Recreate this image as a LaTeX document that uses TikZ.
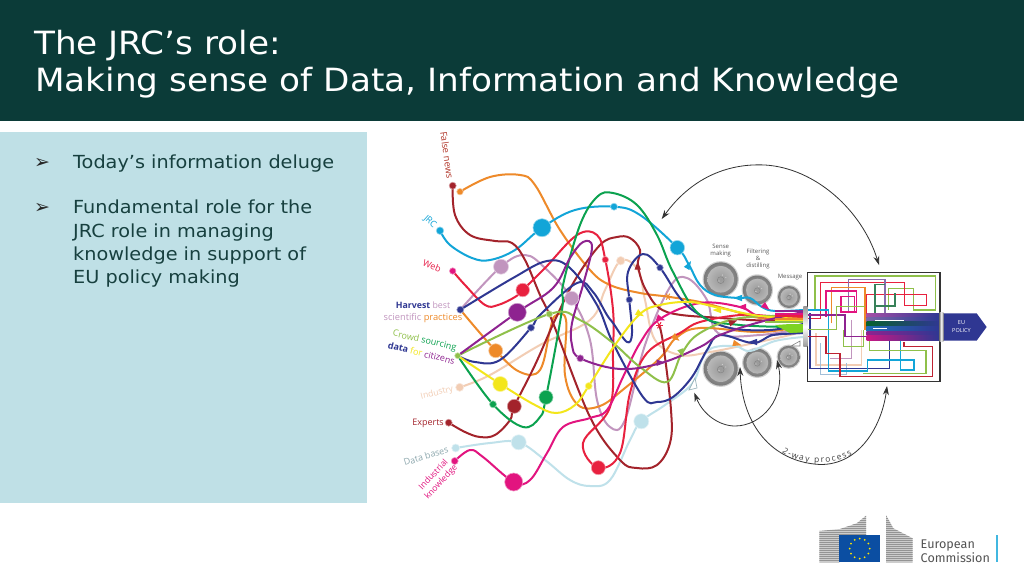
\documentclass[tikz,border=0pt]{standalone}
\usepackage{fontspec}
\setmainfont{DejaVu Sans}
\newfontfamily\wide[FakeStretch=1.07]{DejaVu Sans}
\newfontfamily\lbl{Open Sans}
\newfontfamily\logof{Fira Sans}
\usetikzlibrary{arrows.meta,decorations.text}
\definecolor{hdr}{HTML}{0B3B38}
\definecolor{panel}{HTML}{BFE0E6}
\definecolor{bodytxt}{HTML}{17403F}
\definecolor{cblue}{HTML}{12A5D8}
\definecolor{cdred}{HTML}{A3232B}
\definecolor{corange}{HTML}{EE8A2A}
\definecolor{cred}{HTML}{E8213F}
\definecolor{cmag}{HTML}{E2147F}
\definecolor{cmauve}{HTML}{C195BE}
\definecolor{cpurple}{HTML}{8E2390}
\definecolor{cnavy}{HTML}{2F3792}
\definecolor{cgreen}{HTML}{0BA24F}
\definecolor{colive}{HTML}{8FC04A}
\definecolor{cyellow}{HTML}{F3E61B}
\definecolor{cpeach}{HTML}{F2CDB4}
\definecolor{clblue}{HTML}{BFE1EA}
\definecolor{cbright}{HTML}{7ED321}
\definecolor{eublue}{HTML}{0B4EA2}
\tikzset{
  wire/.style={line width=2pt,line cap=round,line join=round},
  boxwire/.style={line width=1.5pt,line join=miter},
  dotn/.style={circle,inner sep=0pt,minimum size=#1},
  label/.style={inner sep=0pt,font=\lbl},
  grey/.style={inner sep=0pt,font=\lbl\fontsize{6}{7}\selectfont,text=black!65,align=center},
  body/.style={anchor=base west,inner sep=0pt,text=bodytxt,font=\wide\fontsize{18}{20}\selectfont},
  title/.style={anchor=base west,inner sep=0pt,text=white,font=\wide\fontsize{32}{36}\selectfont},
  thinarc/.style={line width=.8pt,draw=black!80},
  headB/.style={{Stealth[length=9pt,width=6pt]}-{Stealth[length=9pt,width=6pt]}},
}
\newcommand{\wirepath}[2]{\draw[wire,#1] plot[smooth,tension=.62] coordinates {#2};}
\newcommand{\ball}[3]{\node[dotn=#2pt,fill=#3,draw=#3!45,line width=.6pt] at (#1) {};}
\newcommand{\tritip}[4]{\fill[#4,rotate around={#3:(#1,#2)}] (#1-4,#2-3.2) -- (#1+4.5,#2) -- (#1-4,#2+3.2) -- cycle;}
\newcommand{\markstar}[3]{\foreach \aa in {0,60,120}{\draw[#3,line width=1pt,rotate around={\aa:(#1,#2)}] (#1-3.5,#2) -- (#1+3.5,#2);}}
\newcommand{\discc}[4]{%
  \fill[black!18] (#2,#3) circle (#4+1.2);
  \shade[inner color=black!32,outer color=black!52] (#2,#3) circle (#4);
  \shade[inner color=black!40,outer color=black!28] (#2,#3) circle (#4*.78);
  \fill[white!80!black] (#2+#4*.1,#3-#4*.25) circle (.7);
  \fill[white!80!black] (#2+#4*.3,#3-#4*.1) circle (.6);
  \fill[white!80!black] (#2-#4*.1,#3+#4*.1) circle (.7);
  \draw[black!50,line width=.4pt] (#2,#3+#4*.05) circle (#4*.2);
  \coordinate (#1) at (#2,#3);}
\begin{document}
\begin{tikzpicture}[x=1pt,y=-1pt]
\useasboundingbox (0,0) rectangle (1024,576);
\fill[white] (0,0) rectangle (1024,576);
\fill[hdr] (0,0) rectangle (1024,120.5);
\fill[panel] (0,132) rectangle (367,503);
\node[title] (t1) at (34,54.5) {The JRC’s role:};
\node[title] (t2) at (35,91.7) {Making sense of Data, Information and Knowledge};
\node[body,font=\fontsize{19}{20}\selectfont,text=black!85] (b1) at (34,168) {➢};
\node[body,font=\fontsize{19}{20}\selectfont,text=black!85] (b2) at (34,213.5) {➢};
\node[body] (p1) at (73,168) {Today’s information deluge};
\node[body] (p2) at (73,213.5) {Fundamental role for the};
\node[body] (p3) at (73,237) {JRC role in managing};
\node[body] (p4) at (73,260.5) {knowledge in support of};
\node[body] (p5) at (73,283.6) {EU policy making};
% anchor points of the tangle
\coordinate (fn) at (452.7,185.7); \coordinate (fo) at (460,191.7);
\coordinate (jr) at (440,230.7);   \coordinate (bb) at (542,227.7);
\coordinate (bs) at (614,206.7);   \coordinate (bm) at (677.3,247.7);
\coordinate (we) at (452.7,271);   \coordinate (ma) at (501,266.7);
\coordinate (re) at (522.7,290);   \coordinate (pu) at (517.3,312.3);
\coordinate (ha) at (460.3,309.7); \coordinate (mb) at (571.7,298.3);
\coordinate (rs) at (605.3,259.7); \coordinate (pe) at (620.7,260.7);
\coordinate (nv) at (660,267.7);   \coordinate (nw) at (629.3,299.7);
\coordinate (os) at (668,296.7);   \coordinate (cr) at (457.7,355.7);
\coordinate (ob) at (495.7,350.7); \coordinate (ns) at (531,327.7);
\coordinate (ol) at (549.3,314);   \coordinate (yb) at (500.3,384);
\coordinate (rd) at (514.3,406.3); \coordinate (gb) at (546,397.3);
\coordinate (gs) at (493,404.3);   \coordinate (in) at (459.7,387.3);
\coordinate (ex) at (448.7,422.7); \coordinate (db) at (455.7,448);
\coordinate (lb) at (518.7,442.3); \coordinate (ik) at (454.7,461);
\coordinate (mg) at (513.7,482);   \coordinate (rb) at (598.3,467.7);
\coordinate (lc) at (641.3,421.3); \coordinate (ps) at (580.3,358.3);
\coordinate (ys) at (588.7,386);
% grey discs
\discc{d1}{720.7}{279.3}{17}
\discc{d2}{757.3}{290}{14.5}
\discc{d3}{789}{297}{11}
\discc{d4}{720.7}{368.7}{17}
\discc{d5}{757.3}{362.7}{14}
\discc{d6}{788.7}{356.7}{11}
% curves
\wirepath{cpeach}{(in) (490,375) (540,345) (590,320) (605,290) (pe) (638,270) (645,300) (655,340) (680,355) (710,352) (745,345) (790,335) (803,331)}
\wirepath{clblue}{(db) (490,443) (lb) (545,460) (570,480) (590,486) (610,480) (630,440) (lc) (665,405) (692,384) (702,360) (712,348) (735,346) (750,351) (775,341) (803,337)}
\wirepath{cmauve}{(ha) (ma) (525,255) (545,268) (mb) (590,340) (597,400) (610,427) (625,420) (645,345) (670,287) (687,278) (707,300) (718,333) (760,335) (803,328)}
\wirepath{corange}{(fo) (490,177) (520,175) (535,185) (560,230) (590,270) (610,285) (640,293) (os) (700,302) (730,310) (760,318) (803,320)}
\wirepath{corange}{(ha) (ob) (520,372) (540,370) (550,330) (555,316) (566,320) (565,375) (578,405) (600,406) (625,388) (660,358) (676,338) (700,328) (760,332) (803,326)}
\wirepath{cblue}{(jr) (450,245) (472,258) (490,260) (515,250) (bb) (575,210) (bs) (640,215) (bm) (689,265) (700,285) (715,295) (738,298) (750,298) (762,307) (775,311) (803,310)}
\wirepath{cdred}{(fn) (455,215) (470,235) (495,241) (512,243) (525,260) (540,295) (553,323) (590,417) (620,460) (637,468) (657,465) (670,443) (671,410) (663,343) (659,325)}
\wirepath{cdred}{(ex) (465,432) (480,437) (495,435) (510,420) (rd) (535,365) (555,320) (575,280) (600,245) (617,237) (630,238) (640,250) (638,266) (647,292) (667,312) (720,318) (750,320) (803,322)}
\wirepath{cred}{(we) (465,285) (485,305) (498,305) (515,297) (re) (545,268) (577,235) (597,235) (rs) (613,310) (613,350) (610,407) (583,443) (rb) (620,453) (630,393) (647,353) (680,333) (700,322) (740,315) (770,316) (803,318)}
\wirepath{cmag}{(ik) (470,450) (483,457) (mg) (530,480) (547,453) (563,427) (590,418) (607,410) (623,377) (640,343) (660,319) (700,303) (740,307) (762,317) (803,315)}
\wirepath{cnavy}{(ha) (513,278) (547,261) (570,268) (597,305) (613,343) (643,397) (657,402) (673,397) (692,377) (707,350) (720,335) (753,343) (773,335) (803,333)}
\wirepath{cnavy}{(cr) (475,362) (500,360) (ns) (540,315) (577,283) (593,292) (607,315) (613,323) (627,342) (632,333) (nw) (628,272) (643,254) (nv) (680,298) (700,315) (730,328) (770,330) (803,324)}
\wirepath{cgreen}{(cr) (gs) (523,427) (540,417) (gb) (562,310) (563,285) (580,225) (597,197) (613,193) (637,205) (657,235) (673,272) (700,315) (740,325) (803,327)}
\wirepath{colive}{(cr) (ol) (580,320) (613,343) (640,367) (667,382) (682,353) (700,333) (740,318) (803,316)}
\wirepath{cyellow}{(cr) (yb) (535,405) (556,413) (575,405) (ys) (615,345) (640,314) (660,305) (690,302) (720,308) (760,316) (803,319)}
\wirepath{cpurple}{(cr) (pu) (553,288) (570,258) (583,242) (592,247) (583,285) (572,323) (572,345) (ps) (620,369) (661,363) (700,347) (720,335) (760,322) (803,312)}
% bundle entering the box
\foreach \yy/\cn in {311/cpurple,313.5/cmag,316/cred,318.5/corange,321/cyellow}{\draw[\cn,line width=2pt] (775,\yy) -- (805,\yy);}
\fill[cbright] (775,325) -- (790,324) -- (805,324) -- (805,333.5) -- (790,333) -- cycle;
\draw[colive,line width=2pt] (765,322) -- (805,322);
\draw[cnavy,line width=1.4pt] (770,335) -- (805,333);
% balls
\ball{fn}{7}{cdred}\ball{fo}{6.5}{corange}\ball{jr}{7.5}{cblue}\ball{bb}{18}{cblue}
\ball{bs}{7}{cblue}\ball{bm}{14.5}{cblue}\ball{we}{6.5}{cmag}\ball{ma}{15}{cmauve}
\ball{re}{13.5}{cred}\ball{pu}{18}{cpurple}\ball{ha}{7}{cnavy}\ball{mb}{14}{cmauve}
\ball{rs}{6.5}{cred}\ball{pe}{8.5}{cpeach}\ball{nv}{6.5}{cnavy}\ball{nw}{6.5}{cnavy}
\ball{ob}{14}{corange}\ball{ns}{7}{cnavy}\ball{ol}{6.5}{colive}\ball{cr}{6}{colive}
\ball{yb}{15}{cyellow}\ball{rd}{14}{cdred}\ball{gb}{14}{cgreen}\ball{gs}{7}{cgreen}
\ball{in}{8}{cpeach}\ball{ex}{7}{cdred}\ball{db}{8}{clblue}\ball{lb}{15}{clblue}
\ball{ik}{7}{cmag}\ball{mg}{18}{cmag}\ball{rb}{14}{cred}\ball{lc}{15}{clblue}
\ball{ps}{7}{cpurple}\ball{ys}{7}{cyellow}
% small marks on the curves
\tritip{688.7}{265}{60}{cblue}
\tritip{637.7}{265.7}{90}{cdred}
\tritip{681.7}{353}{-70}{colive}
\tritip{676}{338}{-40}{corange}
\tritip{660.7}{362.7}{0}{cpurple}
\tritip{660.7}{318.7}{-20}{cmag}
\tritip{640}{314}{-30}{cyellow}
\tritip{738}{298}{180}{cblue}
\tritip{742}{307}{180}{cmag}
\tritip{717}{310}{180}{cyellow}
\tritip{766}{307}{-40}{cmag}
\tritip{737}{344}{-15}{corange}
\tritip{753}{342}{180}{cnavy}
\tritip{733}{322}{20}{cdred}
\draw[clblue!80!black,fill=white,line width=.7pt] (689,390) -- (697,388) -- (695,378) -- cycle;
\draw[black!50,fill=white,line width=.6pt] (791,346) -- (800,341) -- (800,346) -- cycle;
\markstar{668}{296.7}{corange}
\markstar{659.3}{325.3}{cred}
% labels
\node[label,rotate=-82,text=cdred!80!corange,font=\lbl\fontsize{9.4}{10}\selectfont] (l1) at (447,155) {False news};
\node[label,rotate=-42,text=cblue,font=\lbl\fontsize{9}{10}\selectfont] (l2) at (430,222) {JRC};
\node[label,rotate=-22,text=cred!85!cmag,font=\lbl\fontsize{9}{10}\selectfont] (l3) at (432,266) {Web};
\node[label,font=\lbl\fontsize{8.8}{10}\selectfont] (l4) at (423,305) {\textcolor{cnavy}{\textbf{Harvest}} \textcolor{cmauve}{best}};
\node[label,font=\lbl\fontsize{9.3}{10}\selectfont] (l5) at (423,318) {\textcolor{cmauve}{scientific} \textcolor{corange}{practices}};
\node[label,rotate=-13,font=\lbl\fontsize{9}{10}\selectfont] (l6) at (424.5,341) {\textcolor{colive}{Crowd} \textcolor{cgreen}{sourcing}};
\node[label,rotate=-14,font=\lbl\fontsize{9}{10}\selectfont] (l7) at (421.5,353) {\textcolor{cnavy}{\textbf{data}} \textcolor{cyellow}{for} \textcolor{cpurple}{citizens}};
\node[label,rotate=14,text=cpeach,font=\lbl\fontsize{8.6}{10}\selectfont] (l8) at (437,393) {Industry};
\node[label,text=cdred,font=\lbl\fontsize{9}{10}\selectfont] (l9) at (428,423) {Experts};
\node[label,rotate=17,text=black!25!clblue,font=\lbl\fontsize{9}{10}\selectfont] (l10) at (426,456) {Data bases};
\node[label,rotate=47,text=cmag,align=center,font=\lbl\fontsize{8.6}{10.5}\selectfont] (l11) at (437.5,478.5) {Industrial\\knowledge};
\node[grey] (s1) at (720.7,250.7) {Sense\\making};
\node[grey] (s2) at (758,259) {Filtering\\\&\\distilling};
\node[grey] (s3) at (790,277) {Message};
% policy box
\draw[black!80,line width=1.3pt,fill=white] (807.3,272.7) rectangle (940,381.7);
\begin{scope}[shift={(690,230)},x=.3333pt,y=-.3333pt]
\draw[boxwire,colive] (375,240) -- (375,138) -- (737,138) -- (737,240) -- (670,240) -- (670,175) -- (595,175) -- (595,240);
\draw[boxwire,cred] (350,265) -- (392,265) -- (392,157) -- (643,157) -- (643,227) -- (710,227) -- (710,193) -- (530,193) -- (530,300);
\draw[boxwire,cmauve!60!cnavy] (475,250) -- (475,148) -- (585,148) -- (585,265);
\draw[boxwire,corange] (425,280) -- (425,172) -- (525,172) -- (525,300);
\draw[boxwire,cmag] (408,260) -- (408,183) -- (500,183) -- (500,246) -- (453,246) -- (453,200) -- (493,200) -- (493,246);
\draw[boxwire,cgreen!60!black!80] (555,260) -- (555,163) -- (585,163);
\draw[boxwire,cgreen!60!black!80] (555,228) -- (615,228) -- (615,190);
\draw[boxwire,cpeach] (378,310) -- (378,405) -- (515,405) -- (515,300);
\draw[boxwire,clblue!80!cnavy] (392,340) -- (392,433) -- (470,433) -- (470,400);
\draw[boxwire,cmauve] (485,270) -- (485,385) -- (420,385);
\draw[boxwire,cnavy] (360,250) -- (360,415) -- (598,415) -- (598,330);
\draw[boxwire,cblue] (350,240) -- (415,240) -- (415,423) -- (533,423) -- (533,390) -- (672,390) -- (672,420) -- (632,420) -- (632,330);
\draw[boxwire,colive] (460,300) -- (460,350) -- (520,350) -- (520,300);
\draw[boxwire,colive] (520,430) -- (708,430) -- (708,362) -- (538,362) -- (538,325);
\draw[boxwire,cdred!60!cred] (350,320) -- (408,320) -- (408,370) -- (450,370) -- (450,440) -- (727,440) -- (727,350) -- (642,350) -- (642,335);
\draw[boxwire,cpurple] (350,255) -- (465,255) -- (465,320) -- (530,320);
\draw[boxwire,colive] (350,298) -- (440,298) -- (440,230) -- (525,230);
% colour bands fading into the exit
\foreach \ya/\yb/\cn in {250/263/cpurple!80,263/276/cmauve!50!cnavy,276/290/cgreen!60!black,290/305/cblue!50!cnavy,305/318/cpurple,318/331/cmag!70!cpurple}{
  \shade[left color=\cn,right color=cnavy] (530,\ya) rectangle (748,\yb);}
\fill[white] (555,269) rectangle (642,272);
\fill[white] (550,293) rectangle (590,298);
% connectors
\shade[top color=black!40,bottom color=black!40,middle color=white] (340,230) rectangle (352,350);
\shade[left color=black!50,right color=black!50,middle color=white] (748,248) rectangle (760,335);
\fill[cnavy] (762,250) -- (860,250) -- (890,291) -- (860,332) -- (762,332) -- cycle;
\end{scope}
\node[inner sep=0pt,text=white,align=center,font=\lbl\fontsize{5.5}{8}\selectfont] (eu) at (961.5,327) {EU\\POLICY};
% arcs
\coordinate (ta) at (661.7,219); \coordinate (tb) at (879,265);
\draw[thinarc,headB] (ta) .. controls (690,180) and (725,163) .. (765,165) .. controls (815,168) and (862,210) .. (tb);
\coordinate (sa) at (694.3,392.7); \coordinate (sb) at (777,360);
\draw[thinarc,headB] (sa) .. controls (703,415) and (720,426) .. (735,426) .. controls (762,426) and (786,398) .. (sb);
\coordinate (la) at (740,367); \coordinate (lb2) at (887,386);
\draw[thinarc,headB] (la) .. controls (742,425) and (772,462) .. (820,464.5) .. controls (860,465) and (882,425) .. (lb2);
\path[decorate,decoration={text along path,text align={fit to path},text={|\lbl\fontsize{8.4}{9}\selectfont\color{black!75}|2-way process}}]
  (782,452) .. controls (800,465) and (833,466) .. (852,454);
% logo
\begin{scope}
\clip (819.3,531) -- (840,529) -- (856.7,523.3) -- (866,515.7) -- (866,535) -- (839.3,535) -- (839.3,562.3) -- (819.3,562.3) -- cycle;
\fill[black!20] (815,510) rectangle (870,565);
\foreach \yy in {514,516,...,564}{\draw[black!42,line width=.9pt] (815,\yy) -- (870,\yy);}
\end{scope}
\begin{scope}
\clip (886,515) -- (893.3,528.3) -- (912.7,538.3) -- (912.7,562.3) -- (886,562.3) -- cycle;
\fill[black!20] (880,510) rectangle (915,565);
\foreach \yy in {514,516,...,564}{\draw[black!42,line width=.9pt] (880,\yy) -- (915,\yy);}
\end{scope}
\fill[eublue] (839.3,535) rectangle (880,562.3);
\foreach \aa in {0,30,...,330}{\fill[yellow!90!orange] (859.7,548.6) ++(\aa:10) circle (1);}
\node[anchor=base west,inner sep=0pt,text=black!68,font=\logof\fontsize{12.6}{14}\selectfont] (ec1) at (920.5,548) {European};
\node[anchor=base west,inner sep=0pt,text=black!68,font=\logof\fontsize{12.6}{14}\selectfont] (ec2) at (920.5,562) {Commission};
\fill[cblue!80] (995.7,535) rectangle (998,562.3);
\end{tikzpicture}
\end{document}
